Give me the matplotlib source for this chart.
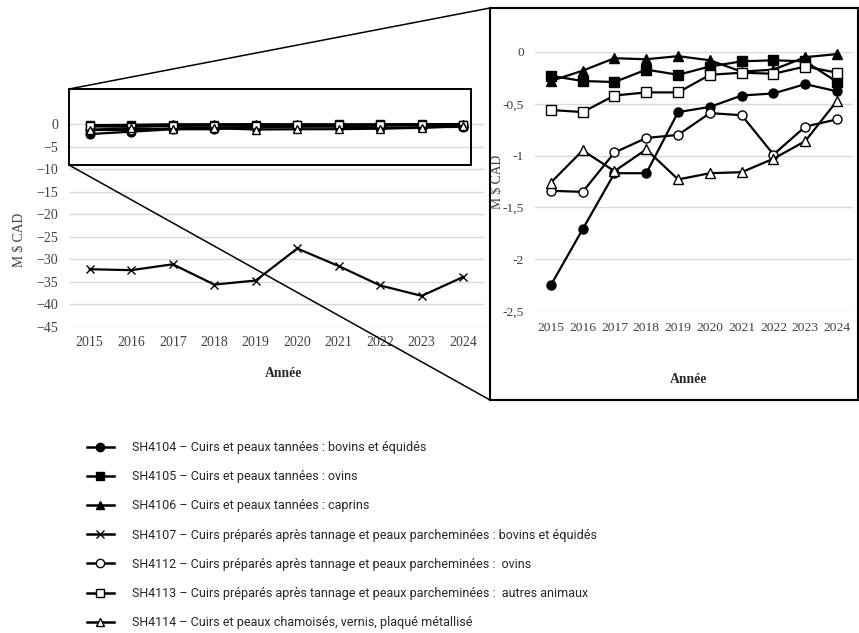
import matplotlib
matplotlib.use("Agg")
import matplotlib.pyplot as plt
from matplotlib.lines import Line2D
from matplotlib.patches import Rectangle

years = [2015, 2016, 2017, 2018, 2019, 2020, 2021, 2022, 2023, 2024]

sh4104 = [-2.25, -1.71, -1.17, -1.17, -0.58, -0.53, -0.42, -0.40, -0.31, -0.38]
sh4105 = [-0.23, -0.28, -0.29, -0.17, -0.22, -0.14, -0.09, -0.08, -0.09, -0.29]
sh4106 = [-0.28, -0.18, -0.06, -0.07, -0.04, -0.08, -0.19, -0.17, -0.05, -0.02]
sh4107 = [-32.2, -32.4, -31.1, -35.6, -34.7, -27.6, -31.5, -35.8, -38.1, -33.9]
sh4112 = [-1.34, -1.35, -0.97, -0.83, -0.80, -0.59, -0.61, -0.99, -0.72, -0.65]
sh4113 = [-0.56, -0.58, -0.42, -0.39, -0.39, -0.22, -0.20, -0.21, -0.14, -0.20]
sh4114 = [-1.26, -0.95, -1.15, -0.94, -1.23, -1.17, -1.16, -1.03, -0.86, -0.47]

labels = [
    "SH4104 – Cuirs et peaux tannées : bovins et équidés",
    "SH4105 – Cuirs et peaux tannées : ovins",
    "SH4106 – Cuirs et peaux tannées : caprins",
    "SH4107 – Cuirs préparés après tannage et peaux parcheminées : bovins et équidés",
    "SH4112 – Cuirs préparés après tannage et peaux parcheminées :  ovins",
    "SH4113 – Cuirs préparés après tannage et peaux parcheminées :  autres animaux",
    "SH4114 – Cuirs et peaux chamoisés, vernis, plaqué métallisé",
]

main_yticks = [0, -5, -10, -15, -20, -25, -30, -35, -40, -45]
inset_yticks = [0, -0.5, -1, -1.5, -2, -2.5]
inset_yticklabels = ["0", "-0,5", "-1", "-1,5", "-2", "-2,5"]

series = [sh4104, sh4105, sh4106, sh4107, sh4112, sh4113, sh4114]
styles = [
    dict(marker="o", mfc="black"),
    dict(marker="s", mfc="black"),
    dict(marker="^", mfc="black"),
    dict(marker="x", mfc="black"),
    dict(marker="o", mfc="white"),
    dict(marker="s", mfc="white"),
    dict(marker="^", mfc="white"),
]

W, H = 859, 633
fig = plt.figure(figsize=(W / 100, H / 100), dpi=100)
serif = ["Liberation Serif", "DejaVu Serif"]
tick_color = "#404040"
grid_color = "#d9d9d9"

def px(x0, y0, x1, y1):
    return [x0 / W, 1 - y1 / H, (x1 - x0) / W, (y1 - y0) / H]

# ---------- main chart ----------
ax = fig.add_axes(px(69, 101.4, 484, 327))
for s, st in zip(series, styles):
    ax.plot(years, s, color="black", lw=1.6, markersize=6.3, mec="black",
            mew=1.0, clip_on=False, zorder=3, **st)
ax.set_xlim(2014.5, 2024.5)
ax.set_ylim(-45, 5)
ax.set_yticks(main_yticks)
ax.set_xticks(years)
ax.grid(axis="y", color=grid_color, lw=1.0)
ax.set_axisbelow(True)
for sp in ax.spines.values():
    sp.set_visible(False)
ax.tick_params(length=0, colors=tick_color, labelsize=10, pad=8)
ax.tick_params(axis="x", pad=6.5)
for t in ax.get_xticklabels() + ax.get_yticklabels():
    t.set_family(serif)
ax.set_ylabel("M $ CAD", family=serif, fontsize=9.8, color=tick_color)
ax.yaxis.set_label_coords(-0.104, 0.386)
ax.set_xlabel("Année", family=serif, fontsize=9.8, fontweight="bold", color="#262626")
ax.xaxis.set_label_coords(0.518, -0.176)

# zoom rectangle
fig.add_artist(Rectangle((69 / W, 1 - 165 / H), (471 - 69) / W, (165 - 89) / H,
                         transform=fig.transFigure, fill=False, ec="black", lw=1.4, zorder=5))

# ---------- inset chart ----------
ax2 = fig.add_axes(px(535, 52, 853, 311))
for s, st in zip(series, styles):
    if s is sh4107:
        continue
    ax2.plot(years, s, color="black", lw=1.6, markersize=6.5, mec="black",
             mew=1.0, clip_on=False, zorder=3, **st)
ax2.set_xlim(2014.5, 2024.5)
ax2.set_ylim(-2.5, 0)
ax2.set_yticks(inset_yticks)
ax2.set_yticklabels(inset_yticklabels)
ax2.set_xticks(years)
ax2.grid(axis="y", color=grid_color, lw=1.0)
ax2.set_axisbelow(True)
for sp in ax2.spines.values():
    sp.set_visible(False)
ax2.tick_params(length=0, colors=tick_color, labelsize=9.7, pad=8)
ax2.tick_params(axis="x", pad=8)
for t in ax2.get_xticklabels() + ax2.get_yticklabels():
    t.set_family(serif)
ax2.set_ylabel("M $ CAD", family=serif, fontsize=9.8, color=tick_color)
ax2.yaxis.set_label_coords(-0.097, 0.498)
ax2.set_xlabel("Année", family=serif, fontsize=9.8, fontweight="bold", color="#262626")
ax2.xaxis.set_label_coords(0.484, -0.238)

# inset frame
fig.add_artist(Rectangle((490 / W, 1 - 400 / H), (858 - 490) / W, (400 - 8) / H,
                         transform=fig.transFigure, fill=False, ec="black", lw=1.5, zorder=5))

# connector lines
fig.add_artist(Line2D([69 / W, 490 / W], [1 - 89 / H, 1 - 8 / H],
                      transform=fig.transFigure, color="black", lw=1.1, zorder=6))
fig.add_artist(Line2D([69 / W, 490 / W], [1 - 165 / H, 1 - 400 / H],
                      transform=fig.transFigure, color="black", lw=1.1, zorder=6))

# ---------- legend ----------
handles = [Line2D([], [], color="black", lw=1.8, markersize=6, mec="black", mew=1.0, **st)
           for st in styles]
leg = fig.legend(handles, labels, loc="upper left",
                 bbox_to_anchor=(76 / W, 1 - 430 / H), frameon=False,
                 handlelength=2.1, handletextpad=1.5, labelspacing=1.29,
                 prop=dict(family=["Roboto", "DejaVu Sans"], size=9))
for t in leg.get_texts():
    t.set_color("#262626")

fig.savefig("out.png", dpi=100)
